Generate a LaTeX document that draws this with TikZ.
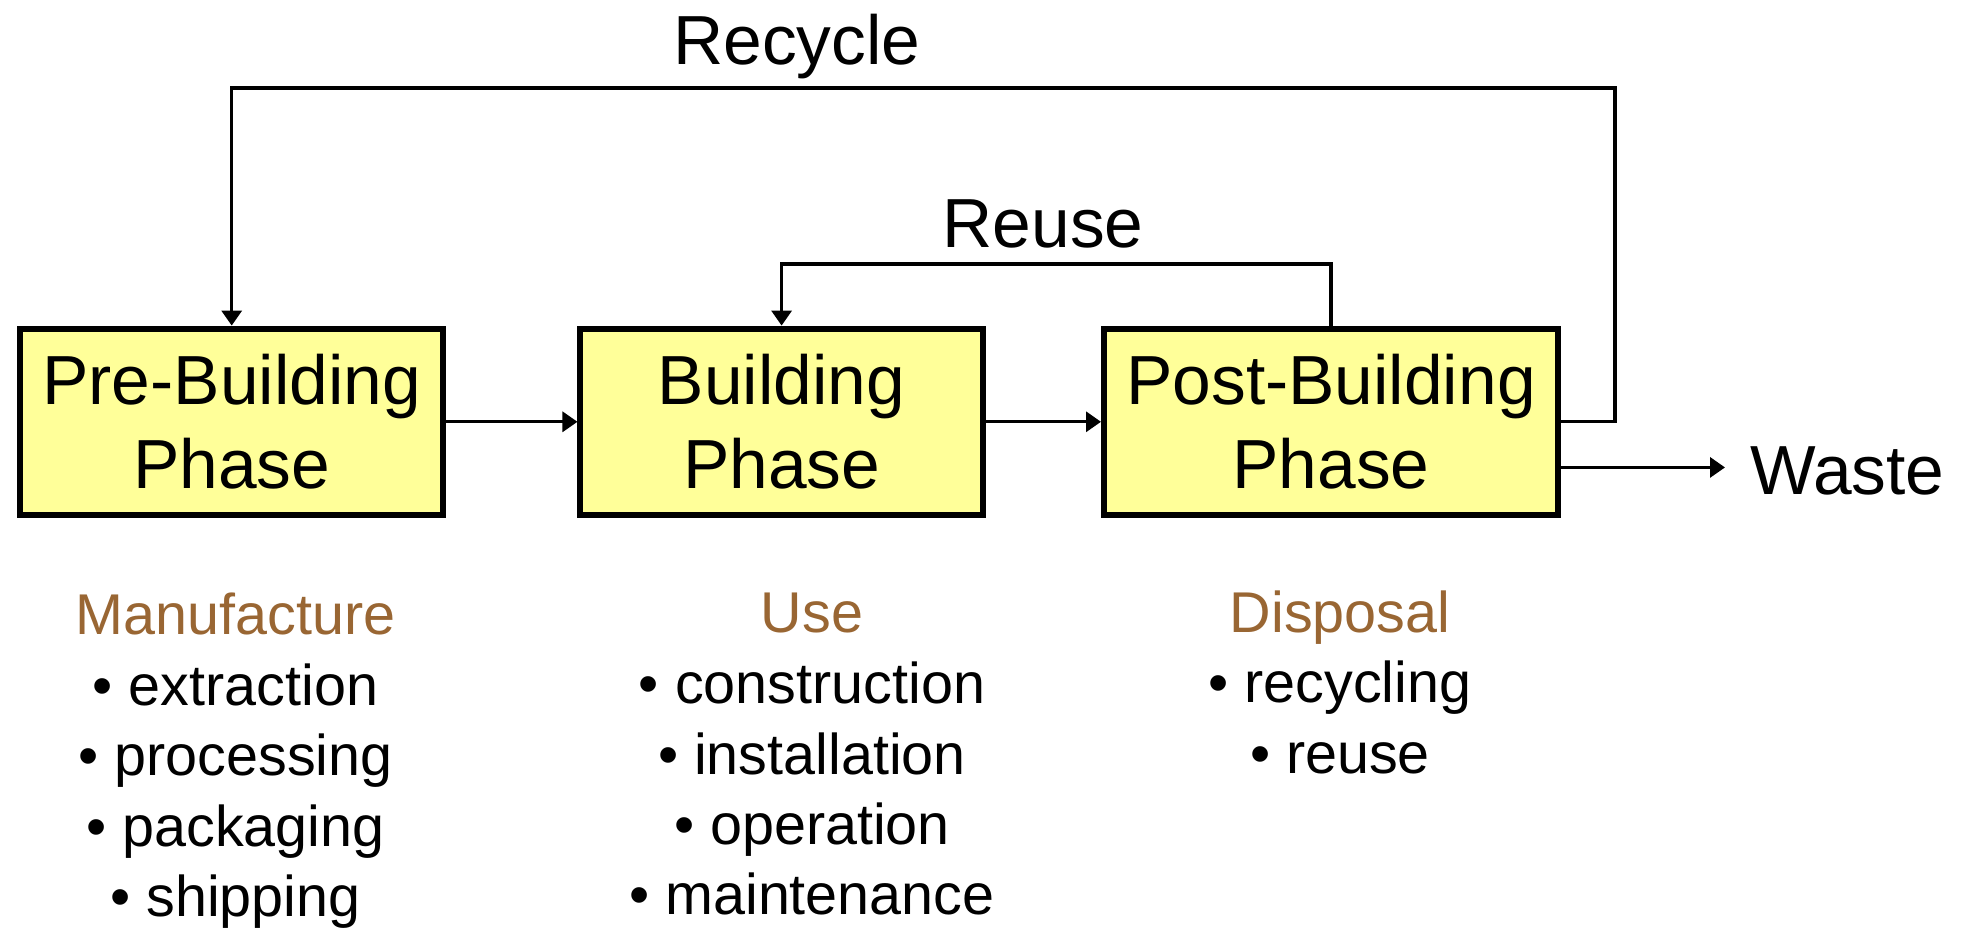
\documentclass[tikz,border=0pt]{standalone}
\usepackage{fontspec}
\setmainfont{Liberation Sans}
\usetikzlibrary{arrows.meta}
\definecolor{boxfill}{RGB}{255,255,153}
\definecolor{headbrown}{RGB}{153,102,51}
\begin{document}
\begin{tikzpicture}[x=0.5pt,y=-0.5pt,
  phase/.style={draw=black, line width=3pt, fill=boxfill, minimum height=93.2pt, inner sep=0pt, align=center, font=\fontsize{34.75}{42}\selectfont},
  conn/.style={line width=1.6pt},
  arr/.style={conn, -{Triangle[length=7.5pt,width=10pt]}},
  big/.style={inner sep=0pt, anchor=base, font=\fontsize{34.75}{42}\selectfont},
  head/.style={inner sep=0pt, anchor=base, text=headbrown, font=\fontsize{28.75}{34}\selectfont},
  item/.style={inner sep=0pt, anchor=base, font=\fontsize{28.75}{34}\selectfont}]
\useasboundingbox (0,0) rectangle (1964,929);
% boxes
\node[phase, minimum width=211.25pt] (b1) at (231.7,421.8) {Pre-Building\\Phase};
\node[phase, minimum width=201.15pt] (b2) at (781.6,421.8) {Building\\Phase};
\node[phase, minimum width=227pt] (b3) at (1331,421.8) {Post-Building\\Phase};
% labels
\node[big] (recycle) at (797,65) {Recycle};
\node[big] (reuse) at (1043,248) {Reuse};
\node[big, anchor=base west, outer xsep=12.5pt] (waste) at (1725,495) {Waste};
% connectors
\coordinate (rcR) at (1615,88);
\coordinate (ruT) at (1331,264);
\draw[arr] (b1.east) -- (b2.west);
\draw[arr] (b2.east) -- (b3.west);
\draw[arr] (b3.east) -| (rcR) -| (b1.north);
\draw[arr] (b3.north) -- (b3.north |- ruT) -| (b2.north);
\draw[arr] ([yshift=2pt]b3.east |- waste.west) -- ([yshift=2pt]waste.west);
% column 1
\node[head] (h1) at (235.5,635) {Manufacture};
\node[item] (i11) at (235.5,705.5) {• extraction};
\node[item] (i12) at (235.5,775.5) {• processing};
\node[item] (i13) at (235.5,846) {• packaging};
\node[item] (i14) at (235.5,916.5) {• shipping};
% column 2
\node[head] (h2) at (812,633) {Use};
\node[item] (i21) at (812,703.5) {• construction};
\node[item] (i22) at (812,774) {• installation};
\node[item] (i23) at (812,844.5) {• operation};
\node[item] (i24) at (812,914.5) {• maintenance};
% column 3
\node[head] (h3) at (1340,633) {Disposal};
\node[item] (i31) at (1340,703) {• recycling};
\node[item] (i32) at (1340,773) {• reuse};
\end{tikzpicture}
\end{document}
